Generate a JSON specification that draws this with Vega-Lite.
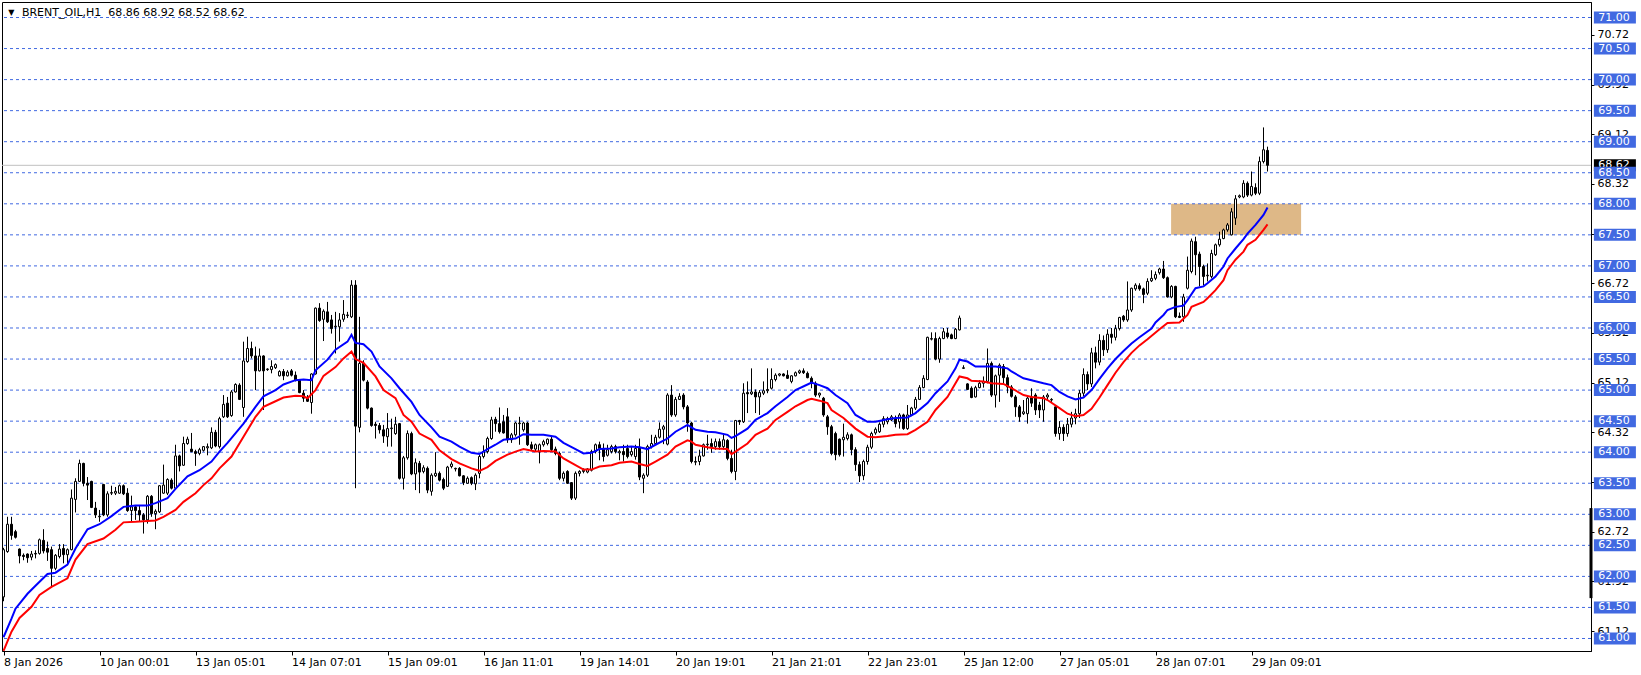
{
"$schema":"https://vega.github.io/schema/vega-lite/v6.json",
"width":1589,"height":649,
"autosize":{"type":"none"},
"padding":{"left":2,"top":2,"right":50,"bottom":24},
"background":"#ffffff",
"config":{"view":{"stroke":"#000000","strokeWidth":1},"font":"DejaVu Sans","scale":{"continuousPadding":0}},
"datasets":{
"zone":[{"t1":291.9,"t2":324.4,"top":68.0,"bottom":67.5}],
"levels":[{"level":71.0,"label":"71.00"},{"level":70.5,"label":"70.50"},{"level":70.0,"label":"70.00"},{"level":69.5,"label":"69.50"},{"level":69.0,"label":"69.00"},{"level":68.5,"label":"68.50"},{"level":68.0,"label":"68.00"},{"level":67.5,"label":"67.50"},{"level":67.0,"label":"67.00"},{"level":66.5,"label":"66.50"},{"level":66.0,"label":"66.00"},{"level":65.5,"label":"65.50"},{"level":65.0,"label":"65.00"},{"level":64.5,"label":"64.50"},{"level":64.0,"label":"64.00"},{"level":63.5,"label":"63.50"},{"level":63.0,"label":"63.00"},{"level":62.5,"label":"62.50"},{"level":62.0,"label":"62.00"},{"level":61.5,"label":"61.50"},{"level":61.0,"label":"61.00"}],
"candles":[
{"i":0,"o":61.67,"h":62.46,"l":61.6,"c":62.43},{"i":1,"o":62.4,"h":62.96,"l":62.38,"c":62.84},{"i":2,"o":62.84,"h":62.96,"l":62.59,"c":62.66},{"i":3,"o":62.72,"h":62.75,"l":62.61,"c":62.63},{"i":4,"o":62.44,"h":62.45,"l":62.21,"c":62.33},{"i":5,"o":62.34,"h":62.37,"l":62.26,"c":62.32},{"i":6,"o":62.36,"h":62.37,"l":62.22,"c":62.3},{"i":7,"o":62.31,"h":62.41,"l":62.26,"c":62.36},{"i":8,"o":62.37,"h":62.42,"l":62.29,"c":62.36},{"i":9,"o":62.37,"h":62.61,"l":62.35,"c":62.59},
{"i":10,"o":62.58,"h":62.76,"l":62.37,"c":62.41},{"i":11,"o":62.45,"h":62.56,"l":62.25,"c":62.39},{"i":12,"o":62.43,"h":62.48,"l":61.84,"c":62.13},{"i":13,"o":62.13,"h":62.36,"l":62.1,"c":62.34},{"i":14,"o":62.32,"h":62.52,"l":62.29,"c":62.44},{"i":15,"o":62.45,"h":62.52,"l":62.21,"c":62.35},{"i":16,"o":62.35,"h":62.45,"l":62.18,"c":62.43},{"i":17,"o":62.43,"h":63.4,"l":62.42,"c":63.26},{"i":18,"o":63.24,"h":63.58,"l":63.03,"c":63.53},{"i":19,"o":63.53,"h":63.88,"l":63.52,"c":63.82},
{"i":20,"o":63.82,"h":63.83,"l":63.45,"c":63.5},{"i":21,"o":63.5,"h":63.6,"l":63.23,"c":63.47},{"i":22,"o":63.53,"h":63.54,"l":63.1,"c":63.11},{"i":23,"o":63.1,"h":63.2,"l":62.94,"c":62.99},{"i":24,"o":62.96,"h":63.07,"l":62.88,"c":62.97},{"i":25,"o":63.48,"h":63.49,"l":62.97,"c":62.99},{"i":26,"o":62.99,"h":63.37,"l":62.96,"c":63.33},{"i":27,"o":63.34,"h":63.46,"l":63.31,"c":63.35},{"i":28,"o":63.34,"h":63.44,"l":63.31,"c":63.37},{"i":29,"o":63.34,"h":63.48,"l":63.33,"c":63.46},
{"i":30,"o":63.46,"h":63.48,"l":63.31,"c":63.33},{"i":31,"o":63.34,"h":63.42,"l":63.04,"c":63.06},{"i":32,"o":63.06,"h":63.3,"l":62.88,"c":63.12},{"i":33,"o":63.12,"h":63.15,"l":62.91,"c":63.06},{"i":34,"o":63.06,"h":63.15,"l":62.88,"c":62.99},{"i":35,"o":62.99,"h":63.02,"l":62.69,"c":62.91},{"i":36,"o":62.91,"h":63.31,"l":62.85,"c":63.29},{"i":37,"o":63.29,"h":63.31,"l":62.96,"c":63.01},{"i":38,"o":63.01,"h":63.08,"l":62.76,"c":63.05},{"i":39,"o":63.04,"h":63.47,"l":63.02,"c":63.46},
{"i":40,"o":63.34,"h":63.8,"l":63.33,"c":63.47},{"i":41,"o":63.34,"h":63.58,"l":63.31,"c":63.56},{"i":42,"o":63.55,"h":63.58,"l":63.4,"c":63.42},{"i":43,"o":63.42,"h":64.12,"l":63.4,"c":63.94},{"i":44,"o":63.94,"h":63.96,"l":63.69,"c":63.78},{"i":45,"o":63.79,"h":64.25,"l":63.78,"c":64.14},{"i":46,"o":64.14,"h":64.25,"l":64.12,"c":64.21},{"i":47,"o":64.05,"h":64.31,"l":64.0,"c":64.01},{"i":48,"o":64.01,"h":64.04,"l":63.78,"c":63.98},{"i":49,"o":63.98,"h":64.07,"l":63.95,"c":64.04},
{"i":50,"o":64.03,"h":64.1,"l":64.01,"c":64.09},{"i":51,"o":64.07,"h":64.14,"l":63.95,"c":64.09},{"i":52,"o":64.07,"h":64.4,"l":64.05,"c":64.32},{"i":53,"o":64.32,"h":64.36,"l":64.08,"c":64.1},{"i":54,"o":64.09,"h":64.57,"l":64.06,"c":64.54},{"i":55,"o":64.57,"h":64.92,"l":64.55,"c":64.77},{"i":56,"o":64.79,"h":64.89,"l":64.55,"c":64.57},{"i":57,"o":64.59,"h":65.0,"l":64.57,"c":64.97},{"i":58,"o":64.97,"h":65.11,"l":64.96,"c":65.09},{"i":59,"o":65.08,"h":65.11,"l":64.84,"c":64.85},
{"i":60,"o":64.72,"h":65.78,"l":64.57,"c":65.47},{"i":61,"o":65.46,"h":65.86,"l":65.44,"c":65.67},{"i":62,"o":65.67,"h":65.78,"l":65.51,"c":65.55},{"i":63,"o":65.55,"h":65.7,"l":65.0,"c":65.31},{"i":64,"o":65.31,"h":65.67,"l":65.3,"c":65.55},{"i":65,"o":65.55,"h":65.56,"l":64.68,"c":65.31},{"i":66,"o":65.33,"h":65.35,"l":65.31,"c":65.34},{"i":67,"o":65.33,"h":65.48,"l":65.27,"c":65.38},{"i":68,"o":65.36,"h":65.43,"l":65.34,"c":65.41},{"i":69,"o":65.23,"h":65.32,"l":65.22,"c":65.3},
{"i":70,"o":65.3,"h":65.34,"l":65.16,"c":65.23},{"i":71,"o":65.23,"h":65.32,"l":65.22,"c":65.29},{"i":72,"o":65.31,"h":65.34,"l":65.22,"c":65.24},{"i":73,"o":65.24,"h":65.3,"l":65.14,"c":65.16},{"i":74,"o":65.16,"h":65.17,"l":64.95,"c":64.96},{"i":75,"o":64.95,"h":65.0,"l":64.81,"c":64.87},{"i":76,"o":64.87,"h":64.92,"l":64.81,"c":64.82},{"i":77,"o":64.8,"h":65.27,"l":64.62,"c":65.26},{"i":78,"o":65.26,"h":66.33,"l":65.25,"c":66.32},{"i":79,"o":66.32,"h":66.4,"l":66.1,"c":66.12},
{"i":80,"o":66.14,"h":66.3,"l":65.79,"c":66.27},{"i":81,"o":66.26,"h":66.42,"l":66.08,"c":66.1},{"i":82,"o":66.13,"h":66.21,"l":65.91,"c":65.99},{"i":83,"o":66.02,"h":66.26,"l":65.59,"c":66.03},{"i":84,"o":66.02,"h":66.24,"l":65.78,"c":66.13},{"i":85,"o":66.14,"h":66.45,"l":66.1,"c":66.22},{"i":86,"o":66.2,"h":66.26,"l":66.16,"c":66.21},{"i":87,"o":66.18,"h":66.77,"l":66.16,"c":66.69},{"i":88,"o":66.69,"h":66.77,"l":63.42,"c":64.42},{"i":89,"o":64.4,"h":66.18,"l":64.32,"c":65.43},
{"i":90,"o":65.43,"h":65.48,"l":65.14,"c":65.16},{"i":91,"o":65.13,"h":65.16,"l":64.69,"c":64.71},{"i":92,"o":64.71,"h":64.72,"l":64.41,"c":64.43},{"i":93,"o":64.45,"h":64.49,"l":64.22,"c":64.43},{"i":94,"o":64.43,"h":64.47,"l":64.3,"c":64.36},{"i":95,"o":64.36,"h":64.44,"l":64.15,"c":64.26},{"i":96,"o":64.25,"h":64.63,"l":64.09,"c":64.38},{"i":97,"o":64.38,"h":64.54,"l":64.09,"c":64.39},{"i":98,"o":64.3,"h":64.57,"l":64.28,"c":64.45},{"i":99,"o":64.46,"h":64.47,"l":63.56,"c":63.58},
{"i":100,"o":63.58,"h":63.94,"l":63.4,"c":63.91},{"i":101,"o":63.91,"h":64.35,"l":63.88,"c":64.3},{"i":102,"o":64.3,"h":64.33,"l":63.63,"c":63.65},{"i":103,"o":63.65,"h":63.9,"l":63.39,"c":63.83},{"i":104,"o":63.82,"h":63.86,"l":63.34,"c":63.68},{"i":105,"o":63.69,"h":63.79,"l":63.66,"c":63.75},{"i":106,"o":63.74,"h":63.77,"l":63.34,"c":63.39},{"i":107,"o":63.37,"h":63.66,"l":63.3,"c":63.63},{"i":108,"o":63.62,"h":64.0,"l":63.6,"c":63.66},{"i":109,"o":63.66,"h":63.69,"l":63.53,"c":63.55},
{"i":110,"o":63.56,"h":63.59,"l":63.39,"c":63.42},{"i":111,"o":63.45,"h":63.78,"l":63.44,"c":63.76},{"i":112,"o":63.77,"h":63.85,"l":63.74,"c":63.81},{"i":113,"o":63.73,"h":63.75,"l":63.69,"c":63.74},{"i":114,"o":63.74,"h":63.76,"l":63.61,"c":63.62},{"i":115,"o":63.62,"h":63.63,"l":63.47,"c":63.51},{"i":116,"o":63.5,"h":63.61,"l":63.49,"c":63.58},{"i":117,"o":63.59,"h":63.61,"l":63.47,"c":63.5},{"i":118,"o":63.49,"h":63.66,"l":63.39,"c":63.63},{"i":119,"o":63.66,"h":63.96,"l":63.58,"c":63.93},
{"i":120,"o":63.93,"h":64.11,"l":63.9,"c":64.01},{"i":121,"o":64.01,"h":64.25,"l":63.98,"c":64.22},{"i":122,"o":64.22,"h":64.57,"l":64.2,"c":64.52},{"i":123,"o":64.53,"h":64.57,"l":64.33,"c":64.46},{"i":124,"o":64.46,"h":64.72,"l":64.3,"c":64.33},{"i":125,"o":64.49,"h":64.6,"l":64.3,"c":64.31},{"i":126,"o":64.57,"h":64.71,"l":64.15,"c":64.2},{"i":127,"o":64.2,"h":64.31,"l":64.15,"c":64.28},{"i":128,"o":64.28,"h":64.49,"l":64.25,"c":64.47},{"i":129,"o":64.46,"h":64.57,"l":64.12,"c":64.47},
{"i":130,"o":64.36,"h":64.49,"l":64.33,"c":64.47},{"i":131,"o":64.47,"h":64.49,"l":64.1,"c":64.12},{"i":132,"o":64.12,"h":64.17,"l":64.03,"c":64.06},{"i":133,"o":64.05,"h":64.14,"l":64.01,"c":64.12},{"i":134,"o":64.01,"h":64.14,"l":63.82,"c":64.12},{"i":135,"o":64.12,"h":64.2,"l":64.09,"c":64.17},{"i":136,"o":64.14,"h":64.22,"l":64.11,"c":64.21},{"i":137,"o":64.21,"h":64.25,"l":64.01,"c":64.04},{"i":138,"o":64.05,"h":64.09,"l":63.95,"c":63.98},{"i":139,"o":63.98,"h":64.01,"l":63.55,"c":63.58},
{"i":140,"o":63.58,"h":63.69,"l":63.53,"c":63.66},{"i":141,"o":63.69,"h":63.71,"l":63.49,"c":63.5},{"i":142,"o":63.51,"h":63.52,"l":63.23,"c":63.26},{"i":143,"o":63.26,"h":63.69,"l":63.23,"c":63.66},{"i":144,"o":63.66,"h":63.71,"l":63.61,"c":63.69},{"i":145,"o":63.69,"h":63.74,"l":63.66,"c":63.71},{"i":146,"o":63.68,"h":63.74,"l":63.66,"c":63.73},{"i":147,"o":63.71,"h":64.04,"l":63.69,"c":64.01},{"i":148,"o":64.01,"h":64.14,"l":63.98,"c":64.12},{"i":149,"o":64.12,"h":64.17,"l":63.87,"c":64.06},
{"i":150,"o":64.06,"h":64.14,"l":63.85,"c":63.93},{"i":151,"o":63.95,"h":64.12,"l":63.93,"c":64.04},{"i":152,"o":64.01,"h":64.12,"l":63.98,"c":64.09},{"i":153,"o":64.09,"h":64.12,"l":63.98,"c":64.01},{"i":154,"o":63.99,"h":64.04,"l":63.87,"c":64.01},{"i":155,"o":64.01,"h":64.12,"l":63.85,"c":63.96},{"i":156,"o":64.06,"h":64.12,"l":63.9,"c":63.93},{"i":157,"o":63.96,"h":64.09,"l":63.93,"c":64.01},{"i":158,"o":63.93,"h":64.12,"l":63.88,"c":64.06},{"i":159,"o":64.08,"h":64.22,"l":63.55,"c":63.6},
{"i":160,"o":63.58,"h":63.66,"l":63.34,"c":63.63},{"i":161,"o":63.63,"h":64.12,"l":63.6,"c":64.09},{"i":162,"o":64.09,"h":64.28,"l":64.06,"c":64.14},{"i":163,"o":64.14,"h":64.28,"l":64.12,"c":64.24},{"i":164,"o":64.24,"h":64.48,"l":64.22,"c":64.37},{"i":165,"o":64.37,"h":64.44,"l":64.13,"c":64.41},{"i":166,"o":64.13,"h":64.95,"l":64.11,"c":64.92},{"i":167,"o":64.92,"h":65.08,"l":64.57,"c":64.6},{"i":168,"o":64.6,"h":64.89,"l":64.57,"c":64.85},{"i":169,"o":64.85,"h":64.95,"l":64.84,"c":64.9},
{"i":170,"o":64.92,"h":64.95,"l":64.69,"c":64.73},{"i":171,"o":64.73,"h":64.76,"l":64.33,"c":64.47},{"i":172,"o":64.47,"h":64.49,"l":63.82,"c":63.85},{"i":173,"o":63.85,"h":63.93,"l":63.79,"c":63.84},{"i":174,"o":63.85,"h":64.04,"l":63.79,"c":63.94},{"i":175,"o":63.94,"h":64.14,"l":63.93,"c":64.12},{"i":176,"o":64.12,"h":64.28,"l":64.04,"c":64.13},{"i":177,"o":64.14,"h":64.22,"l":63.99,"c":64.09},{"i":178,"o":64.09,"h":64.22,"l":64.04,"c":64.17},{"i":179,"o":64.17,"h":64.22,"l":64.04,"c":64.09},
{"i":180,"o":64.09,"h":64.28,"l":64.04,"c":64.2},{"i":181,"o":64.19,"h":64.21,"l":63.87,"c":63.9},{"i":182,"o":63.9,"h":64.04,"l":63.66,"c":63.69},{"i":183,"o":63.69,"h":64.52,"l":63.55,"c":64.51},{"i":184,"o":64.51,"h":64.52,"l":64.44,"c":64.49},{"i":185,"o":64.49,"h":65.11,"l":64.47,"c":64.95},{"i":186,"o":64.96,"h":65.14,"l":64.63,"c":64.94},{"i":187,"o":64.94,"h":65.35,"l":64.92,"c":64.97},{"i":188,"o":64.97,"h":65.01,"l":64.63,"c":64.89},{"i":189,"o":64.89,"h":65.0,"l":64.6,"c":64.96},
{"i":190,"o":64.95,"h":65.14,"l":64.92,"c":64.99},{"i":191,"o":64.99,"h":65.35,"l":64.95,"c":65.01},{"i":192,"o":65.03,"h":65.35,"l":65.01,"c":65.17},{"i":193,"o":65.17,"h":65.27,"l":65.14,"c":65.24},{"i":194,"o":65.24,"h":65.27,"l":65.22,"c":65.26},{"i":195,"o":65.26,"h":65.27,"l":65.22,"c":65.23},{"i":196,"o":65.24,"h":65.32,"l":65.18,"c":65.19},{"i":197,"o":65.14,"h":65.24,"l":65.11,"c":65.23},{"i":198,"o":65.23,"h":65.3,"l":65.22,"c":65.28},{"i":199,"o":65.28,"h":65.33,"l":65.26,"c":65.31},
{"i":200,"o":65.31,"h":65.35,"l":65.26,"c":65.28},{"i":201,"o":65.27,"h":65.3,"l":65.19,"c":65.2},{"i":202,"o":65.19,"h":65.22,"l":65.03,"c":65.11},{"i":203,"o":65.11,"h":65.14,"l":64.89,"c":64.92},{"i":204,"o":64.92,"h":64.96,"l":64.88,"c":64.95},{"i":205,"o":64.87,"h":64.89,"l":64.57,"c":64.6},{"i":206,"o":64.57,"h":64.6,"l":64.28,"c":64.41},{"i":207,"o":64.41,"h":64.44,"l":63.95,"c":63.98},{"i":208,"o":64.3,"h":64.33,"l":63.87,"c":63.96},{"i":209,"o":64.21,"h":64.22,"l":63.93,"c":63.96},
{"i":210,"o":64.2,"h":64.46,"l":63.93,"c":64.24},{"i":211,"o":64.22,"h":64.32,"l":64.19,"c":64.28},{"i":212,"o":64.28,"h":64.3,"l":63.95,"c":64.04},{"i":213,"o":64.04,"h":64.08,"l":63.7,"c":63.8},{"i":214,"o":63.8,"h":63.85,"l":63.52,"c":63.62},{"i":215,"o":63.62,"h":63.88,"l":63.55,"c":63.85},{"i":216,"o":63.85,"h":64.12,"l":63.8,"c":64.08},{"i":217,"o":64.08,"h":64.33,"l":64.05,"c":64.3},{"i":218,"o":64.31,"h":64.4,"l":64.28,"c":64.37},{"i":219,"o":64.33,"h":64.48,"l":64.31,"c":64.45},
{"i":220,"o":64.45,"h":64.58,"l":64.4,"c":64.54},{"i":221,"o":64.49,"h":64.57,"l":64.45,"c":64.54},{"i":222,"o":64.52,"h":64.6,"l":64.5,"c":64.57},{"i":223,"o":64.54,"h":64.59,"l":64.4,"c":64.46},{"i":224,"o":64.49,"h":64.63,"l":64.38,"c":64.6},{"i":225,"o":64.6,"h":64.62,"l":64.36,"c":64.38},{"i":226,"o":64.38,"h":64.76,"l":64.36,"c":64.6},{"i":227,"o":64.6,"h":64.73,"l":64.58,"c":64.71},{"i":228,"o":64.71,"h":64.89,"l":64.68,"c":64.85},{"i":229,"o":64.85,"h":65.08,"l":64.84,"c":65.04},
{"i":230,"o":65.04,"h":65.24,"l":65.03,"c":65.19},{"i":231,"o":65.17,"h":65.86,"l":65.16,"c":65.85},{"i":232,"o":65.82,"h":65.93,"l":65.8,"c":65.83},{"i":233,"o":65.83,"h":65.93,"l":65.48,"c":65.5},{"i":234,"o":65.5,"h":65.86,"l":65.44,"c":65.83},{"i":235,"o":65.83,"h":66.0,"l":65.82,"c":65.94},{"i":236,"o":65.92,"h":66.0,"l":65.83,"c":65.86},{"i":237,"o":65.89,"h":65.91,"l":65.82,"c":65.83},{"i":238,"o":65.83,"h":66.0,"l":65.82,"c":65.98},{"i":239,"o":65.97,"h":66.2,"l":65.96,"c":66.16},
{"i":240,"o":65.35,"h":65.4,"l":65.34,"c":65.36},{"i":241,"o":65.1,"h":65.11,"l":65.0,"c":65.01},{"i":242,"o":65.03,"h":65.06,"l":64.87,"c":64.88},{"i":243,"o":64.89,"h":65.07,"l":64.88,"c":65.04},{"i":244,"o":65.04,"h":65.16,"l":65.03,"c":65.11},{"i":245,"o":65.11,"h":65.22,"l":65.04,"c":65.14},{"i":246,"o":65.14,"h":65.67,"l":65.11,"c":65.43},{"i":247,"o":65.43,"h":65.46,"l":64.89,"c":64.92},{"i":248,"o":64.92,"h":65.25,"l":64.72,"c":65.23},{"i":249,"o":65.24,"h":65.43,"l":64.81,"c":65.4},
{"i":250,"o":65.38,"h":65.42,"l":65.1,"c":65.2},{"i":251,"o":65.2,"h":65.25,"l":64.95,"c":65.05},{"i":252,"o":65.05,"h":65.08,"l":64.88,"c":64.9},{"i":253,"o":64.89,"h":64.92,"l":64.57,"c":64.73},{"i":254,"o":64.73,"h":64.76,"l":64.49,"c":64.57},{"i":255,"o":64.62,"h":64.84,"l":64.6,"c":64.65},{"i":256,"o":64.62,"h":64.89,"l":64.46,"c":64.87},{"i":257,"o":64.89,"h":65.03,"l":64.73,"c":64.79},{"i":258,"o":64.92,"h":64.95,"l":64.6,"c":64.68},{"i":259,"o":64.76,"h":64.81,"l":64.55,"c":64.68},
{"i":260,"o":64.68,"h":64.92,"l":64.49,"c":64.89},{"i":261,"o":64.89,"h":64.95,"l":64.84,"c":64.92},{"i":262,"o":64.84,"h":64.87,"l":64.81,"c":64.85},{"i":263,"o":64.73,"h":64.74,"l":64.25,"c":64.3},{"i":264,"o":64.3,"h":64.5,"l":64.2,"c":64.4},{"i":265,"o":64.4,"h":64.45,"l":64.18,"c":64.3},{"i":266,"o":64.3,"h":64.55,"l":64.25,"c":64.45},{"i":267,"o":64.45,"h":64.65,"l":64.4,"c":64.55},{"i":268,"o":64.55,"h":64.7,"l":64.45,"c":64.62},{"i":269,"o":64.62,"h":65.0,"l":64.55,"c":64.95},
{"i":270,"o":64.95,"h":65.35,"l":64.9,"c":65.25},{"i":271,"o":65.25,"h":65.3,"l":65.0,"c":65.1},{"i":272,"o":65.1,"h":65.68,"l":65.05,"c":65.6},{"i":273,"o":65.6,"h":65.7,"l":65.35,"c":65.45},{"i":274,"o":65.45,"h":65.9,"l":65.4,"c":65.8},{"i":275,"o":65.8,"h":65.88,"l":65.55,"c":65.65},{"i":276,"o":65.65,"h":65.98,"l":65.6,"c":65.9},{"i":277,"o":65.9,"h":66.0,"l":65.75,"c":65.85},{"i":278,"o":65.85,"h":66.05,"l":65.8,"c":65.99},{"i":279,"o":65.99,"h":66.18,"l":65.96,"c":66.17},
{"i":280,"o":66.19,"h":66.21,"l":66.1,"c":66.13},{"i":281,"o":66.13,"h":66.75,"l":66.1,"c":66.29},{"i":282,"o":66.29,"h":66.65,"l":66.26,"c":66.64},{"i":283,"o":66.63,"h":66.72,"l":66.6,"c":66.69},{"i":284,"o":66.68,"h":66.72,"l":66.6,"c":66.63},{"i":285,"o":66.63,"h":66.65,"l":66.4,"c":66.54},{"i":286,"o":66.56,"h":66.8,"l":66.53,"c":66.75},{"i":287,"o":66.76,"h":66.93,"l":66.74,"c":66.8},{"i":288,"o":66.8,"h":66.91,"l":66.77,"c":66.86},{"i":289,"o":66.89,"h":66.97,"l":66.86,"c":66.95},
{"i":290,"o":66.95,"h":67.08,"l":66.79,"c":66.81},{"i":291,"o":66.81,"h":66.83,"l":66.49,"c":66.5},{"i":292,"o":66.5,"h":66.69,"l":66.48,"c":66.67},{"i":293,"o":66.67,"h":66.68,"l":66.16,"c":66.18},{"i":294,"o":66.19,"h":66.25,"l":66.16,"c":66.17},{"i":295,"o":66.18,"h":66.55,"l":66.1,"c":66.5},{"i":296,"o":66.64,"h":67.15,"l":66.62,"c":66.93},{"i":297,"o":66.91,"h":67.44,"l":66.88,"c":67.4},{"i":298,"o":67.39,"h":67.47,"l":66.85,"c":67.18},{"i":299,"o":67.19,"h":67.23,"l":66.67,"c":66.99},
{"i":300,"o":66.99,"h":67.02,"l":66.69,"c":66.83},{"i":301,"o":66.84,"h":67.04,"l":66.75,"c":66.85},{"i":302,"o":66.83,"h":67.26,"l":66.8,"c":67.2},{"i":303,"o":67.18,"h":67.36,"l":67.16,"c":67.34},{"i":304,"o":67.34,"h":67.55,"l":67.31,"c":67.43},{"i":305,"o":67.44,"h":67.6,"l":67.43,"c":67.58},{"i":306,"o":67.58,"h":67.69,"l":67.55,"c":67.66},{"i":307,"o":67.5,"h":67.93,"l":67.49,"c":67.87},{"i":308,"o":67.77,"h":68.14,"l":67.66,"c":68.08},{"i":309,"o":68.11,"h":68.15,"l":68.09,"c":68.13},
{"i":310,"o":68.11,"h":68.38,"l":68.09,"c":68.33},{"i":311,"o":68.33,"h":68.36,"l":68.11,"c":68.14},{"i":312,"o":68.14,"h":68.52,"l":68.12,"c":68.28},{"i":313,"o":68.26,"h":68.33,"l":68.14,"c":68.17},{"i":314,"o":68.17,"h":68.76,"l":68.14,"c":68.68},{"i":315,"o":68.68,"h":69.23,"l":68.65,"c":68.87},{"i":316,"o":68.86,"h":68.92,"l":68.52,"c":68.62}
],
"blue":[
{"i":0,"v":61.02},{"i":2,"v":61.32},{"i":3,"v":61.48},{"i":6,"v":61.72},{"i":8,"v":61.85},{"i":11,"v":62.04},{"i":13,"v":62.06},{"i":16,"v":62.19},{"i":18,"v":62.45},{"i":21,"v":62.76},{"i":24,"v":62.84},{"i":27,"v":62.97},{"i":30,"v":63.12},{"i":33,"v":63.14},{"i":36,"v":63.14},{"i":38,"v":63.18},{"i":41,"v":63.26},{"i":43,"v":63.41},{"i":46,"v":63.61},{"i":49,"v":63.71},{"i":52,"v":63.85},{"i":54,"v":64.01},{"i":56,"v":64.15},{"i":60,"v":64.46},{"i":63,"v":64.73},{"i":65,"v":64.9},{"i":68,"v":65.0},{"i":70,"v":65.09},{"i":73,"v":65.16},{"i":75,"v":65.17},{"i":77,"v":65.16},{"i":78,"v":65.32},{"i":81,"v":65.49},{"i":83,"v":65.65},{"i":86,"v":65.78},{"i":87,"v":65.89},{"i":88,"v":65.76},{"i":90,"v":65.74},{"i":92,"v":65.62},{"i":94,"v":65.38},{"i":97,"v":65.19},{"i":99,"v":65.03},{"i":102,"v":64.81},{"i":104,"v":64.6},{"i":107,"v":64.4},{"i":109,"v":64.25},{"i":112,"v":64.17},{"i":114,"v":64.09},{"i":117,"v":63.99},{"i":119,"v":63.97},{"i":121,"v":64.05},{"i":123,"v":64.12},{"i":125,"v":64.2},{"i":128,"v":64.22},{"i":130,"v":64.29},{"i":132,"v":64.28},{"i":135,"v":64.28},{"i":138,"v":64.25},{"i":140,"v":64.15},{"i":143,"v":64.05},{"i":145,"v":63.98},{"i":147,"v":63.99},{"i":149,"v":64.05},{"i":152,"v":64.06},{"i":154,"v":64.08},{"i":157,"v":64.09},{"i":159,"v":64.08},{"i":161,"v":64.05},{"i":163,"v":64.12},{"i":166,"v":64.22},{"i":168,"v":64.33},{"i":171,"v":64.44},{"i":172,"v":64.4},{"i":173,"v":64.36},{"i":176,"v":64.33},{"i":178,"v":64.32},{"i":181,"v":64.28},{"i":182,"v":64.23},{"i":183,"v":64.26},{"i":186,"v":64.38},{"i":188,"v":64.52},{"i":191,"v":64.63},{"i":193,"v":64.74},{"i":196,"v":64.89},{"i":198,"v":65.0},{"i":201,"v":65.09},{"i":202,"v":65.12},{"i":204,"v":65.08},{"i":206,"v":65.03},{"i":208,"v":64.92},{"i":211,"v":64.79},{"i":213,"v":64.6},{"i":216,"v":64.49},{"i":218,"v":64.49},{"i":221,"v":64.53},{"i":223,"v":64.55},{"i":226,"v":64.56},{"i":228,"v":64.63},{"i":231,"v":64.79},{"i":233,"v":64.95},{"i":236,"v":65.14},{"i":238,"v":65.35},{"i":239,"v":65.49},{"i":241,"v":65.46},{"i":243,"v":65.38},{"i":246,"v":65.38},{"i":248,"v":65.38},{"i":251,"v":65.35},{"i":252,"v":65.3},{"i":255,"v":65.19},{"i":257,"v":65.16},{"i":260,"v":65.11},{"i":262,"v":65.08},{"i":264,"v":64.97},{"i":266,"v":64.9},{"i":268,"v":64.85},{"i":270,"v":64.88},{"i":272,"v":65.0},{"i":274,"v":65.18},{"i":276,"v":65.35},{"i":278,"v":65.5},{"i":280,"v":65.63},{"i":282,"v":65.75},{"i":284,"v":65.85},{"i":287,"v":65.99},{"i":288,"v":66.09},{"i":290,"v":66.21},{"i":291,"v":66.29},{"i":293,"v":66.34},{"i":295,"v":66.36},{"i":296,"v":66.45},{"i":298,"v":66.64},{"i":300,"v":66.67},{"i":301,"v":66.72},{"i":303,"v":66.83},{"i":305,"v":66.99},{"i":306,"v":67.12},{"i":308,"v":67.28},{"i":310,"v":67.43},{"i":311,"v":67.52},{"i":313,"v":67.66},{"i":315,"v":67.82},{"i":316,"v":67.94}
],
"red":[
{"i":0,"v":60.8},{"i":2,"v":61.11},{"i":4,"v":61.33},{"i":7,"v":61.51},{"i":9,"v":61.7},{"i":12,"v":61.83},{"i":16,"v":61.97},{"i":18,"v":62.27},{"i":21,"v":62.52},{"i":25,"v":62.61},{"i":28,"v":62.75},{"i":30,"v":62.87},{"i":33,"v":62.88},{"i":35,"v":62.89},{"i":38,"v":62.9},{"i":40,"v":62.96},{"i":43,"v":63.07},{"i":45,"v":63.2},{"i":48,"v":63.34},{"i":50,"v":63.47},{"i":52,"v":63.58},{"i":54,"v":63.74},{"i":57,"v":63.93},{"i":60,"v":64.25},{"i":63,"v":64.57},{"i":65,"v":64.73},{"i":68,"v":64.82},{"i":70,"v":64.88},{"i":73,"v":64.91},{"i":75,"v":64.9},{"i":76,"v":64.87},{"i":78,"v":65.0},{"i":80,"v":65.23},{"i":83,"v":65.37},{"i":85,"v":65.51},{"i":87,"v":65.62},{"i":88,"v":65.5},{"i":90,"v":65.44},{"i":93,"v":65.22},{"i":95,"v":65.0},{"i":98,"v":64.87},{"i":100,"v":64.6},{"i":102,"v":64.49},{"i":104,"v":64.3},{"i":107,"v":64.2},{"i":109,"v":64.03},{"i":112,"v":63.89},{"i":114,"v":63.82},{"i":117,"v":63.74},{"i":119,"v":63.7},{"i":121,"v":63.76},{"i":123,"v":63.86},{"i":126,"v":63.96},{"i":128,"v":64.01},{"i":130,"v":64.05},{"i":133,"v":64.01},{"i":135,"v":64.02},{"i":138,"v":64.01},{"i":140,"v":63.9},{"i":143,"v":63.79},{"i":145,"v":63.72},{"i":147,"v":63.72},{"i":149,"v":63.77},{"i":152,"v":63.79},{"i":154,"v":63.83},{"i":157,"v":63.85},{"i":159,"v":63.81},{"i":161,"v":63.78},{"i":163,"v":63.85},{"i":166,"v":63.96},{"i":168,"v":64.09},{"i":171,"v":64.19},{"i":172,"v":64.17},{"i":173,"v":64.12},{"i":176,"v":64.08},{"i":178,"v":64.06},{"i":181,"v":64.05},{"i":182,"v":63.97},{"i":183,"v":64.01},{"i":186,"v":64.14},{"i":188,"v":64.28},{"i":191,"v":64.38},{"i":193,"v":64.52},{"i":196,"v":64.65},{"i":198,"v":64.74},{"i":201,"v":64.84},{"i":202,"v":64.86},{"i":204,"v":64.83},{"i":206,"v":64.79},{"i":207,"v":64.68},{"i":210,"v":64.55},{"i":213,"v":64.38},{"i":216,"v":64.25},{"i":218,"v":64.24},{"i":221,"v":64.26},{"i":223,"v":64.28},{"i":226,"v":64.29},{"i":228,"v":64.36},{"i":231,"v":64.49},{"i":233,"v":64.68},{"i":236,"v":64.89},{"i":238,"v":65.11},{"i":239,"v":65.22},{"i":241,"v":65.19},{"i":242,"v":65.15},{"i":245,"v":65.14},{"i":247,"v":65.11},{"i":250,"v":65.1},{"i":252,"v":65.03},{"i":255,"v":64.92},{"i":257,"v":64.89},{"i":260,"v":64.87},{"i":261,"v":64.84},{"i":264,"v":64.71},{"i":266,"v":64.62},{"i":268,"v":64.58},{"i":270,"v":64.6},{"i":272,"v":64.7},{"i":274,"v":64.88},{"i":276,"v":65.08},{"i":278,"v":65.28},{"i":280,"v":65.45},{"i":282,"v":65.6},{"i":284,"v":65.72},{"i":286,"v":65.82},{"i":289,"v":65.98},{"i":291,"v":66.08},{"i":294,"v":66.09},{"i":296,"v":66.21},{"i":297,"v":66.34},{"i":300,"v":66.42},{"i":301,"v":66.48},{"i":303,"v":66.61},{"i":305,"v":66.77},{"i":306,"v":66.93},{"i":308,"v":67.1},{"i":310,"v":67.23},{"i":311,"v":67.34},{"i":313,"v":67.42},{"i":315,"v":67.58},{"i":316,"v":67.67}
]
},
"layer":[
{"data":{"name":"candles"},"mark":{"type":"rule","opacity":0},
 "encoding":{
  "x":{"field":"i","type":"quantitative","scale":{"domain":[-0.375,396.875],"nice":false,"zero":false,"padding":0},
   "axis":{"orient":"bottom","title":null,"grid":false,"values":[0,24,48,72,96,120,144,168,192,216,240,264,288,312],
    "labelExpr":"['8 Jan 2026','10 Jan 00:01','13 Jan 05:01','14 Jan 07:01','15 Jan 09:01','16 Jan 11:01','19 Jan 14:01','20 Jan 19:01','21 Jan 21:01','22 Jan 23:01','25 Jan 12:00','27 Jan 05:01','28 Jan 07:01','29 Jan 09:01'][round(datum.value/24)]",
    "tickSize":4,"tickColor":"#000000","domainColor":"#000000","labelColor":"#000000","labelFont":"DejaVu Sans","labelFontSize":11,"labelAlign":"left","labelBaseline":"top","labelPadding":1,"labelOverlap":false,"labelFlush":false,"labelBound":false}},
  "y":{"field":"l","type":"quantitative","scale":{"domain":[60.7987,71.2496],"nice":false,"zero":false,"padding":0},
   "axis":{"orient":"right","title":null,"grid":false,"values":[70.72,69.92,69.12,68.32,67.52,66.72,65.92,65.12,64.32,63.52,62.72,61.92,61.12],"format":".2f",
    "tickSize":3,"tickColor":"#000000","domainColor":"#000000","labelColor":"#000000","labelFont":"DejaVu Sans","labelFontSize":11,"labelPadding":3,"labelBaseline":"middle","labelOverlap":false,"labelFlush":false,"labelBound":false}},
  "y2":{"field":"h"}}},
{"data":{"name":"zone"},"mark":{"type":"rect","color":"#DEB887"},
 "encoding":{"x":{"field":"t1","type":"quantitative"},"x2":{"field":"t2"},
 "y":{"field":"top","type":"quantitative"},"y2":{"field":"bottom"}}},
{"data":{"name":"levels"},"mark":{"type":"rule","color":"#4169E1","strokeWidth":1,"strokeDash":[3,3]},
 "encoding":{"y":{"field":"level","type":"quantitative"}}},
{"data":{"values":[{}]},"mark":{"type":"rule","color":"#C0C0C0","strokeWidth":1},
 "encoding":{"y":{"datum":68.62,"type":"quantitative"}}},
{"data":{"name":"candles"},"mark":{"type":"rule","color":"#000000","strokeWidth":1},
 "encoding":{"x":{"field":"i","type":"quantitative"},"y":{"field":"l","type":"quantitative"},"y2":{"field":"h"}}},
{"data":{"name":"candles"},"mark":{"type":"bar","width":2,"stroke":"#000000","strokeWidth":1},
 "encoding":{"x":{"field":"i","type":"quantitative"},
  "y":{"field":"o","type":"quantitative"},"y2":{"field":"c"},
  "fill":{"condition":{"test":"datum.c < datum.o","value":"#000000"},"value":"#ffffff"}}},
{"data":{"name":"blue"},"mark":{"type":"line","color":"#0000FF","strokeWidth":2},
 "encoding":{"x":{"field":"i","type":"quantitative"},"y":{"field":"v","type":"quantitative"}}},
{"data":{"name":"red"},"mark":{"type":"line","color":"#FF0000","strokeWidth":2,"clip":true},
 "encoding":{"x":{"field":"i","type":"quantitative"},"y":{"field":"v","type":"quantitative"}}},
{"data":{"values":[{}]},"mark":{"type":"text","align":"left","baseline":"middle","font":"DejaVu Sans","fontSize":8,"color":"#000000"},
 "encoding":{"x":{"datum":1.2,"type":"quantitative"},"y":{"datum":71.075,"type":"quantitative"},"text":{"value":"▼"}}},
{"data":{"values":[{}]},"mark":{"type":"text","align":"left","baseline":"middle","font":"DejaVu Sans","fontSize":11,"color":"#000000"},
 "encoding":{"x":{"datum":4.6,"type":"quantitative"},"y":{"datum":71.0725,"type":"quantitative"},"text":{"value":"BRENT_OIL,H1\u00a0\u00a068.86 68.92 68.52 68.62"}}},
{"data":{"values":[{}]},"mark":{"type":"rule","color":"#000000","strokeWidth":3,"strokeCap":"butt"},
 "encoding":{"x":{"datum":396.875,"type":"quantitative"},"y":{"datum":63.1,"type":"quantitative"},"y2":{"datum":61.65}}},
{"data":{"values":[{}]},"mark":{"type":"rule","color":"#000000","strokeWidth":12,"strokeCap":"butt"},
 "encoding":{"x":{"datum":397.6,"type":"quantitative"},"x2":{"datum":408.1},"y":{"datum":68.62,"type":"quantitative"}}},
{"data":{"values":[{}]},"mark":{"type":"text","align":"left","baseline":"middle","font":"DejaVu Sans","fontSize":11,"color":"#ffffff"},
 "encoding":{"x":{"datum":398.7,"type":"quantitative"},"y":{"datum":68.62,"type":"quantitative"},"text":{"value":"68.62"}}},
{"data":{"name":"levels"},"mark":{"type":"rule","color":"#4169E1","strokeWidth":12,"strokeCap":"butt"},
 "encoding":{"x":{"datum":397.6,"type":"quantitative"},"x2":{"datum":408.1},"y":{"field":"level","type":"quantitative"}}},
{"data":{"name":"levels"},"mark":{"type":"text","align":"left","baseline":"middle","font":"DejaVu Sans","fontSize":11,"color":"#ffffff"},
 "encoding":{"x":{"datum":398.7,"type":"quantitative"},"y":{"field":"level","type":"quantitative"},"text":{"field":"label"}}}
]
}
